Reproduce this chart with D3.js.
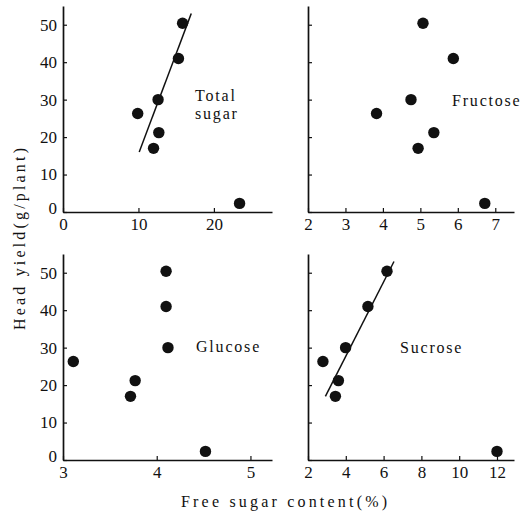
<!DOCTYPE html>
<html>
<head>
<meta charset="utf-8">
<script src="https://cdn.jsdelivr.net/npm/d3@7"></script>
<style>
  body { margin: 0; background: #fff; }
  text { font-family: "Liberation Serif", "DejaVu Serif", serif; fill: #111; }
</style>
</head>
<body>
<svg id="chart" width="530" height="521"></svg>
<script>
// yield of head (g/plant), same plants in every panel
const headYield = [50.4, 41, 30, 26.3, 21.2, 17, 2.3];
const totalSugar = [15.85, 15.3, 12.6, 9.9, 12.7, 12.0, 23.4];
const fructose = [5.07, 5.88, 4.75, 3.83, 5.36, 4.94, 6.72];
const glucose = [4.10, 4.10, 4.12, 3.11, 3.77, 3.72, 4.52];
const sucrose = [6.18, 5.17, 3.99, 2.79, 3.61, 3.45, 12.0];

// regression lines [x, y] ends
const totalLine = [[10.1, 16], [17.0, 53]];
const sucroseLine = [[2.92, 17], [6.55, 53]];

const yTicks = [0, 10, 20, 30, 40, 50];
const totalTicks = [0, 10, 20];
const fructoseTicks = [2, 3, 4, 5, 6, 7];
const glucoseTicks = [3, 4, 5];
const sucroseTicks = [2, 4, 6, 8, 10, 12];

const svg = d3.select("#chart");

const panels = [
  {xs: totalSugar, dom: [0, 27.7], ticks: totalTicks, left: 63, right: 272, top: 6, bottom: 212, yLabels: true,
   line: totalLine, label: ["Total", "sugar"], lx: 195, ly: 101},
  {xs: fructose, dom: [2, 7.5], ticks: fructoseTicks, left: 308, right: 514, top: 6, bottom: 212, yLabels: false,
   line: null, label: ["Fructose"], lx: 452, ly: 106},
  {xs: glucose, dom: [3, 5.23], ticks: glucoseTicks, left: 63, right: 272, top: 254, bottom: 460, yLabels: true,
   line: null, label: ["Glucose"], lx: 196, ly: 352},
  {xs: sucrose, dom: [2, 12.9], ticks: sucroseTicks, left: 308, right: 514, top: 254, bottom: 460, yLabels: false,
   line: sucroseLine, label: ["Sucrose"], lx: 400, ly: 353}
];

panels.forEach(p => {
  const x = d3.scaleLinear().domain(p.dom).range([p.left, p.right]);
  const y = d3.scaleLinear().domain([0, 55]).range([p.bottom, p.top]);

  const gx = svg.append("g").attr("transform", `translate(0,${p.bottom})`)
    .call(d3.axisBottom(x).tickValues(p.ticks).tickFormat(d3.format("d"))
      .tickSizeInner(-4).tickSizeOuter(0).tickPadding(6));
  const gy = svg.append("g").attr("transform", `translate(${p.left},0)`)
    .call(d3.axisLeft(y).tickValues(yTicks).tickSizeInner(-4).tickSizeOuter(0).tickPadding(6)
      .tickFormat(p.yLabels ? d3.format("d") : ""));
  [gx, gy].forEach(g => {
    g.select(".domain").attr("stroke", "#111").attr("stroke-width", 1.7);
    g.selectAll(".tick line").attr("stroke", "#111").attr("stroke-width", 1.2);
    g.selectAll(".tick text").style("font-size", "17px").attr("fill", "#111").style("font-family", "Liberation Serif, serif");
  });
  // the zero label sits a little higher in the source
  gy.selectAll(".tick").filter(d => d === 0).select("text").attr("dy", "0.1em");

  if (p.line) {
    svg.append("path").datum(p.line).attr("fill", "none").attr("stroke", "#111").attr("stroke-width", 1.5)
      .attr("d", d3.line().x(d => x(d[0])).y(d => y(d[1])));
  }

  svg.append("g").selectAll("circle").data(p.xs).join("circle")
    .attr("cx", d => x(d)).attr("cy", (d, i) => y(headYield[i])).attr("r", 5.7).attr("fill", "#111");

  p.label.forEach((t, i) => {
    svg.append("text").attr("x", p.lx).attr("y", p.ly + i * 18).style("font-size", "16px")
      .style("letter-spacing", "1.8px").text(t);
  });
});

svg.append("text").attr("transform", "translate(25,239) rotate(-90)").attr("text-anchor", "middle")
  .style("font-size", "16px").attr("textLength", 182).text("Head yield(g/plant)");
svg.append("text").attr("x", 284).attr("y", 507).attr("text-anchor", "middle")
  .style("font-size", "16px").attr("textLength", 206).text("Free sugar content(%)");
</script>
</body>
</html>
